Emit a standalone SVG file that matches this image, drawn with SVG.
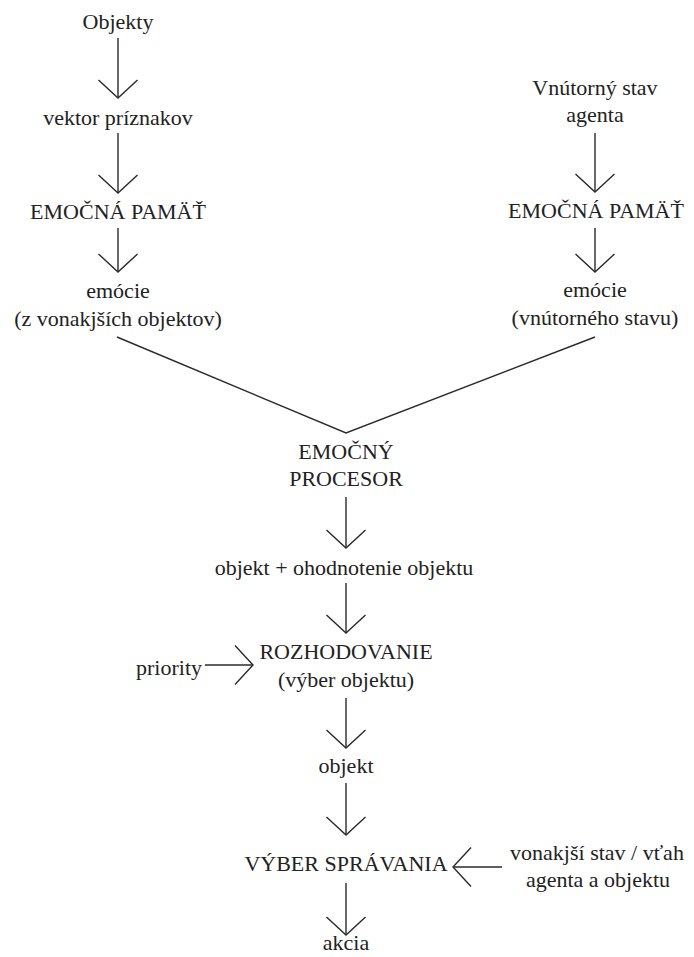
<svg xmlns="http://www.w3.org/2000/svg" width="694" height="957" viewBox="0 0 694 957">
<style>
.t text{font-size:22px;fill:#222;text-anchor:middle}
.c line,.c path{stroke:#2a2a2a;stroke-width:1.4;fill:none}
</style>
<defs>
<marker id="v" markerUnits="userSpaceOnUse" markerWidth="44" markerHeight="44" viewBox="0 0 44 44" refX="22" refY="22" orient="auto" overflow="visible">
<path d="M4,2.5 L22,22 L4,41.5" fill="none" stroke="#2a2a2a" stroke-width="1.4"/>
</marker>
</defs>
<rect width="694" height="957" fill="#fff"/>
<g class="c" id="connectors">
<line x1="118" y1="38" x2="118" y2="98" marker-end="url(#v)"/>
<line x1="118" y1="133" x2="118" y2="193" marker-end="url(#v)"/>
<line x1="118" y1="228" x2="118" y2="272" marker-end="url(#v)"/>
<line x1="595" y1="133" x2="595" y2="192" marker-end="url(#v)"/>
<line x1="595" y1="228" x2="595" y2="272" marker-end="url(#v)"/>
<path d="M117,337 L346,433 L595,337"/>
<line x1="346" y1="497" x2="346" y2="548" marker-end="url(#v)"/>
<line x1="346" y1="583" x2="346" y2="633" marker-end="url(#v)"/>
<line x1="205" y1="665" x2="253" y2="665" marker-end="url(#v)"/>
<line x1="346" y1="698" x2="346" y2="748" marker-end="url(#v)"/>
<line x1="346" y1="783" x2="346" y2="835" marker-end="url(#v)"/>
<line x1="502" y1="867" x2="453" y2="867" marker-end="url(#v)"/>
<line x1="346" y1="883" x2="346" y2="935" marker-end="url(#v)"/>
</g>
<g class="t" font-family="'Liberation Serif', Tinos, 'Times New Roman', 'DejaVu Serif', serif">
<g id="objekty"><text x="118" y="29">Objekty</text></g>
<g id="vektor"><text x="118" y="125">vektor príznakov</text></g>
<g id="pamat-l"><text x="118" y="219">EMOČNÁ PAMÄŤ</text></g>
<g id="emocie-l"><text x="118" y="298">emócie</text><text x="118" y="326">(z vonakjších objektov)</text></g>
<g id="vnutorny"><text x="595" y="95">Vnútorný stav</text><text x="595" y="122">agenta</text></g>
<g id="pamat-r"><text x="596" y="218">EMOČNÁ PAMÄŤ</text></g>
<g id="emocie-r"><text x="595" y="297">emócie</text><text x="595" y="325">(vnútorného stavu)</text></g>
<g id="procesor"><text x="346" y="459">EMOČNÝ</text><text x="346" y="486">PROCESOR</text></g>
<g id="ohodnotenie"><text x="344" y="575">objekt + ohodnotenie objektu</text></g>
<g id="rozhodovanie"><text x="346" y="659">ROZHODOVANIE</text><text x="346" y="687">(výber objektu)</text></g>
<g id="priority"><text x="202" y="675" style="text-anchor:end">priority</text></g>
<g id="objekt"><text x="346" y="773">objekt</text></g>
<g id="vyber"><text x="346" y="871">VÝBER SPRÁVANIA</text></g>
<g id="vonkajsi"><text x="597" y="860">vonakjší stav / vťah</text><text x="598" y="887">agenta a objektu</text></g>
<g id="akcia"><text x="346" y="950">akcia</text></g>
</g>
</svg>
